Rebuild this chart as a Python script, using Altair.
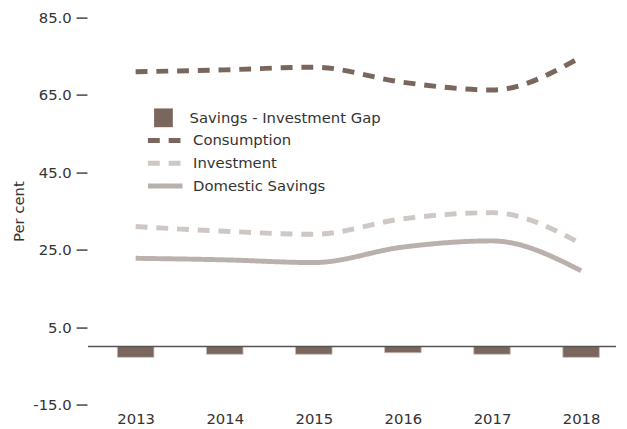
import altair as alt
import pandas as pd

years = [2013, 2014, 2015, 2016, 2017, 2018]
consumption = [71.0, 71.5, 72.2, 68.3, 66.3, 74.8]
investment = [31.0, 29.8, 29.0, 33.0, 34.6, 26.6]
domestic_savings = [22.8, 22.4, 21.7, 25.7, 27.3, 19.6]
gap = [-2.8, -2.0, -2.0, -1.6, -2.0, -2.8]

bar_series = ["Savings - Investment Gap"]
line_series = ["Consumption", "Investment", "Domestic Savings"]
bar_color = ["#7b665d"]
line_colors = ["#7b665d", "#cec7c3", "#bab0ac"]
line_dashes = [[12, 9], [12, 9], [1, 0]]
y_ticks = [-15, 5, 25, 45, 65, 85]

rows = []
for name, vals in zip(bar_series + line_series, [gap, consumption, investment, domestic_savings]):
    for yr, v in zip(years, vals):
        rows.append({"year": yr, "series": name, "value": v})
df = pd.DataFrame(rows)

FONT = "DejaVu Sans"
FS = 15
TXT = "#333333"

x_enc = alt.X(
    "year:Q",
    scale=alt.Scale(domain=[2012.52, 2018.337], nice=False, zero=False),
    axis=alt.Axis(
        values=years, format="d", title=None, domain=False, ticks=False, grid=False,
        labelFontSize=FS, labelFont=FONT, labelColor=TXT, labelPadding=7,
    ),
)

y_enc = alt.Y(
    "value:Q",
    scale=alt.Scale(domain=[-15, 85], nice=False, zero=False),
    axis=alt.Axis(
        values=y_ticks,
        labelExpr="replace(format(datum.value, '.1f'), '\u2212', '-')",
        title="Per cent",
        titleFont=FONT, titleFontSize=FS, titleFontWeight="normal", titleColor=TXT,
        titleX=-61, titleY=196, titleAngle=270, titleAlign="center",
        domain=False, grid=False, tickSize=11, tickColor="#444444", tickWidth=1.5,
        labelFontSize=FS, labelFont=FONT, labelColor=TXT, labelPadding=5, offset=1,
    ),
)

base = alt.Chart(df)

bars = base.transform_filter(alt.datum.series == bar_series[0]).mark_bar(
    width=37, stroke="#c9bdb7", strokeWidth=0.8
).encode(
    x=x_enc, y=y_enc,
    fill=alt.Fill(
        "series:N",
        scale=alt.Scale(domain=bar_series, range=bar_color),
        legend=alt.Legend(
            title=None, orient="none", legendX=67, legendY=92,
            symbolType="square", symbolSize=361, symbolStrokeWidth=0,
            symbolFillColor="#7b665d",
            labelFontSize=FS, labelFont=FONT, labelColor=TXT, labelOffset=17,
            labelLimit=400,
        ),
    ),
)

line_legend = alt.Legend(
    title=None, orient="none", legendX=66.75, legendY=113,
    symbolType="M-2,0H2", symbolSize=306.25, symbolStrokeWidth=5,
    labelFontSize=FS, labelFont=FONT, labelColor=TXT, labelOffset=16.75,
    labelLimit=400, rowPadding=1,
)

lines = base.transform_filter(alt.datum.series != bar_series[0]).mark_line(
    interpolate="monotone", strokeWidth=5, strokeCap="butt"
).encode(
    x=x_enc, y=y_enc,
    stroke=alt.Stroke(
        "series:N",
        scale=alt.Scale(domain=line_series, range=line_colors),
        legend=line_legend,
    ),
    strokeDash=alt.StrokeDash(
        "series:N",
        scale=alt.Scale(domain=line_series, range=line_dashes),
        legend=line_legend,
    ),
)

zero = alt.Chart(pd.DataFrame({"z": [0]})).mark_rule(
    color="#555555", strokeWidth=1.5
).encode(y=alt.Y("z:Q"))

chart = alt.layer(bars, zero, lines).properties(
    width=535,
    height=392,
    padding={"left": 81, "top": 7, "right": 3, "bottom": 22},
    autosize=alt.AutoSizeParams(type="none"),
).configure_view(stroke=None)

chart.save("out.html", embed_options={"renderer": "svg", "actions": False})
